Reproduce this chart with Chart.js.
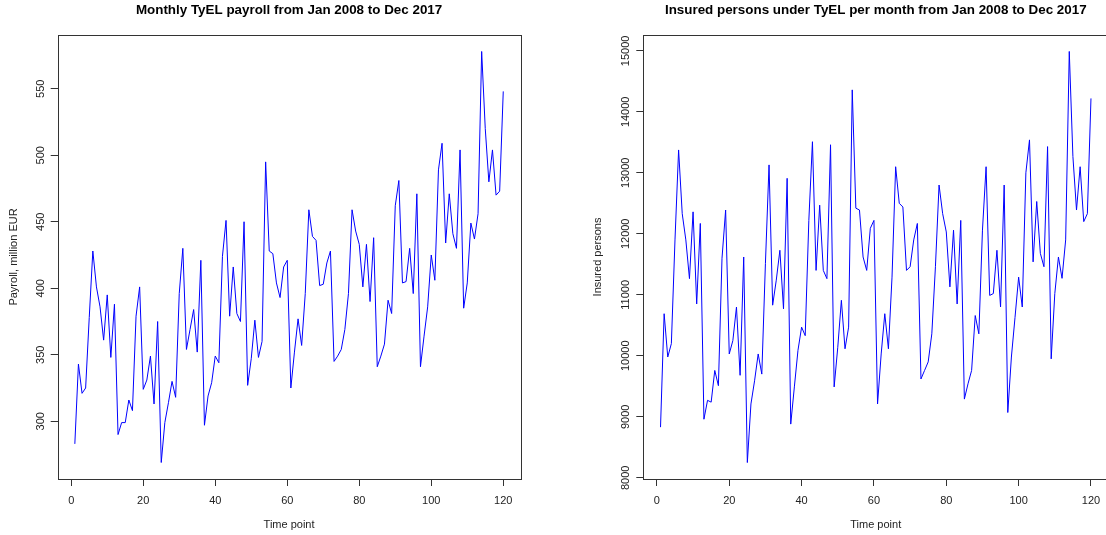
<!DOCTYPE html>
<html>
<head>
<meta charset="utf-8">
<script src="https://cdn.jsdelivr.net/npm/chart.js@4"></script>
<style>
  html, body { margin: 0; padding: 0; overflow: hidden; background: #fff; }
  .panel { position: absolute; top: 0; height: 535px; }
</style>
</head>
<body>
<div class="panel" style="left:0; width:553px"><canvas id="payrollChart"></canvas></div>
<div class="panel" style="left:553px; width:560px"><canvas id="insuredChart"></canvas></div>
<script>
// time points 1..120 (Jan 2008 .. Dec 2017)
var timePoints = [1,2,3,4,5,6,7,8,9,10,11,12,13,14,15,16,17,18,19,20,
  21,22,23,24,25,26,27,28,29,30,31,32,33,34,35,36,37,38,39,40,
  41,42,43,44,45,46,47,48,49,50,51,52,53,54,55,56,57,58,59,60,
  61,62,63,64,65,66,67,68,69,70,71,72,73,74,75,76,77,78,79,80,
  81,82,83,84,85,86,87,88,89,90,91,92,93,94,95,96,97,98,99,100,
  101,102,103,104,105,106,107,108,109,110,111,112,113,114,115,116,117,118,119,120];

// payroll, million EUR
var payroll = [283,343,321,325,378,428,401,386,361,395,348,388,
  290,299,299,316,308,379,401,324,331,349,313,375,
  269,299,314,330,318,396,430,354,369,384,352,421,
  297,319,329,349,344,424,451,379,416,381,375,450,
  327,347,376,348,360,495,428,426,404,393,416,421,
  325,352,377,357,396,459,439,436,402,403,419,428,
  345,349,354,369,396,459,443,433,401,433,390,438,
  341,349,358,391,381,462,481,404,405,430,396,471,
  341,364,386,425,406,489,509,434,471,441,430,504,
  385,404,449,437,456,578,520,480,504,470,473,548];

// insured persons
var insured = [8830,10690,9980,10200,11900,13375,12330,11900,11265,12360,10850,12170,
  8960,9270,9240,9760,9510,11600,12390,10030,10250,10800,9680,11620,
  8250,9210,9590,10030,9700,11510,13130,10830,11240,11730,10770,12910,
  8880,9490,10090,10470,10330,12220,13510,11400,12470,11400,11265,13460,
  9490,10140,10910,10115,10470,14360,12420,12390,11620,11400,12090,12220,
  9210,10030,10690,10115,11290,13100,12500,12440,11400,11460,11900,12170,
  9620,9760,9900,10360,11460,12800,12330,12030,11130,12060,10850,12220,
  9290,9540,9760,10660,10360,12060,13100,10990,11020,11730,10800,12800,
  9070,9980,10630,11290,10800,13000,13540,11540,12530,11680,11460,13430,
  9950,11020,11620,11270,11900,14990,13270,12390,13100,12200,12330,14220];

var xTicks = [0, 20, 40, 60, 80, 100, 120];
var payrollTicks = [300, 350, 400, 450, 500, 550];
var insuredTicks = [8000, 9000, 10000, 11000, 12000, 13000, 14000, 15000];

var FONT = "'Liberation Sans', Arial, sans-serif";
var INK = '#222';
var AXIS = '#333';

// box round the plot + vertical y tick labels (R style)
var rBox = {
  id: 'rBox',
  afterDraw: function (chart) {
    var a = chart.chartArea, ctx = chart.ctx;
    ctx.save();
    ctx.strokeStyle = AXIS;
    ctx.lineWidth = 1;
    ctx.strokeRect(Math.round(a.left) + 0.5, Math.round(a.top) + 0.5,
      Math.round(a.right - a.left), Math.round(a.bottom - a.top));
    var ys = chart.scales.y;
    ctx.fillStyle = INK;
    ctx.font = '11px ' + FONT;
    ctx.textAlign = 'center';
    ctx.textBaseline = 'middle';
    ys.ticks.forEach(function (t) {
      var py = ys.getPixelForValue(t.value);
      ctx.save();
      ctx.translate(a.left - 17, py);
      ctx.rotate(-Math.PI / 2);
      ctx.fillText(String(t.value), 0, 0);
      ctx.restore();
    });
    ctx.restore();
  }
};

function makeChart(id, title, yTitle, values, yMin, yMax, yTicks, yAxisWidth, yTitlePad, rightPad) {
  return new Chart(document.getElementById(id), {
    type: 'line',
    data: {
      labels: timePoints,
      datasets: [{
        data: values,
        borderColor: '#0000ff',
        borderWidth: 1,
        pointRadius: 0,
        tension: 0,
        fill: false
      }]
    },
    options: {
      responsive: true,
      maintainAspectRatio: false,
      animation: false,
      layout: { padding: { left: 0, right: rightPad, top: 0, bottom: 0 } },
      plugins: {
        legend: { display: false },
        tooltip: { enabled: false },
        title: {
          display: true, text: title, fullSize: false, color: '#000',
          font: { family: FONT, size: 13.4, weight: 'bold' },
          padding: { top: 2, bottom: 16.9 }
        }
      },
      scales: {
        x: {
          type: 'linear', min: -3.76, max: 124.76,
          afterBuildTicks: function (s) { s.ticks = xTicks.map(function (v) { return { value: v }; }); },
          afterFit: function (s) { s.height = 56; },
          grid: { drawOnChartArea: false, drawTicks: true, tickLength: 7, color: AXIS },
          border: { display: false },
          ticks: { color: INK, font: { family: FONT, size: 11 }, padding: 8, maxRotation: 0, autoSkip: false },
          title: { display: true, text: 'Time point', color: INK, font: { family: FONT, size: 11 }, padding: { top: 0, bottom: 3.4 } }
        },
        y: {
          min: yMin, max: yMax,
          afterBuildTicks: function (s) { s.ticks = yTicks.map(function (v) { return { value: v }; }); },
          afterFit: function (s) { s.width = yAxisWidth; },
          grid: { drawOnChartArea: false, drawTicks: true, tickLength: 7, color: AXIS },
          border: { display: false },
          ticks: { display: false },
          title: { display: true, text: yTitle, color: INK, font: { family: FONT, size: 11 }, padding: { top: yTitlePad, bottom: 0 } }
        }
      }
    },
    plugins: [rBox]
  });
}

makeChart('payrollChart', 'Monthly TyEL payroll from Jan 2008 to Dec 2017', 'Payroll, million EUR',
  payroll, 256.6, 590.4, payrollTicks, 57.7, 7.4, 32.6);
makeChart('insuredChart', 'Insured persons under TyEL per month from Jan 2008 to Dec 2017', 'Insured persons',
  insured, 7980, 15260, insuredTicks, 90.3, 38.4, 4.8);
</script>
</body>
</html>
